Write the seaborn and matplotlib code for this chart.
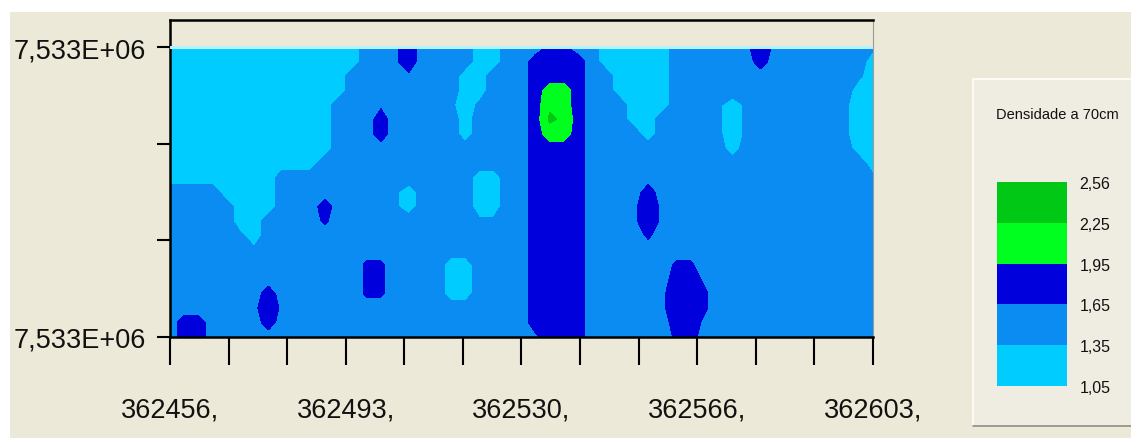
import numpy as np
import matplotlib
matplotlib.use("Agg")
import matplotlib.pyplot as plt
from matplotlib.patches import Rectangle
from matplotlib.lines import Line2D
import seaborn as sns

# map extent (UTM metres)
x_min, x_max = 362456, 362603
y_min, y_max = 7532960, 7533020

# density at 70 cm on a 51 x 21 grid, top row first.
# one hex char per node = tenths above 1.0  ('2' -> 1.2, '5' -> 1.5, 'B' -> 2.1)
density_rows = [
    "222222222222225568555522555775522222555556865555554",
    "222222222222225568555522558888522222555555855555552",
    "222222222222255556555225558888552222555555555555542",
    "222222222222255555555225558BB8552222555555555555522",
    "222222222222555655554245558CB8555222555424555555422",
    "222222222222555855555255558DC8555225555424555555422",
    "222222222222555855555255558BB8555525555424555555422",
    "222222222222555555555555558888555555555525555555522",
    "222222222225555555555555558888555555555555555555552",
    "222222225555555555555522558888555555555555555555554",
    "555522225555555542555522558888555585555555555555555",
    "555552225558555542555522558888555686555555555555555",
    "555552255557555555555544558888555686555555555555555",
    "555554255555555555555555558888555575555555555555555",
    "555555455555555555555555558888555555555555555555555",
    "555555555555557755552255558888555555775555555555555",
    "555555555555557755552255558888555555886555555555555",
    "555555585555557755552255558888555556887555555555555",
    "555555686555555555555555558888555556887555555555555",
    "588555585555555555555555558888555555886555555555555",
    "588555555555555555555555556888555555785555555555555",
]

levels = [1.05, 1.35, 1.65, 1.95, 2.25, 2.56]
level_labels = ["1,05", "1,35", "1,65", "1,95", "2,25", "2,56"]
level_colors = ["#00ccff", "#0a8cf3", "#0000dc", "#00ff1e", "#00c814"]

x_tick_labels = ["362456,", "", "", "362493,", "", "", "362530,", "", "",
                 "362566,", "", "", "362603,"]
y_tick_labels = ["7,533E+06", "", "", "7,533E+06"]

legend_title = "Densidade a 70cm"

for r in density_rows:
    assert len(r) == 51, r

z = np.array([[1.0 + 0.1 * int(c, 16) for c in r] for r in density_rows])
z = np.flipud(z)
xs = np.linspace(x_min, x_max, z.shape[1])
ys = np.linspace(y_min, y_max, z.shape[0])

sns.set_theme(style="ticks")
plt.rcParams['font.family'] = ['Liberation Sans', 'DejaVu Sans']

W, H = 1131, 439
bg = "#ece9d8"
fig = plt.figure(figsize=(W / 100, H / 100), dpi=100, facecolor="white")
fig.add_artist(Rectangle((10 / W, 0), 1, 1 - 13 / H, transform=fig.transFigure,
                         facecolor=bg, edgecolor="none", zorder=-10))

ax = fig.add_axes([170 / W, 1 - 338 / H, 703 / W, (338 - 21) / H])
ax.set_facecolor(bg)
pal = sns.color_palette(level_colors)
cf = ax.contourf(xs, ys, z, levels=levels, colors=pal)
ax.axhline(y_max, color="#b8f1fb", lw=2.2, zorder=3)

ax.set_xlim(x_min, x_max)
ax.set_ylim(y_min, y_max + 5.6)
ax.set_xticks(np.linspace(x_min, x_max, len(x_tick_labels)))
ax.set_xticklabels(x_tick_labels)
ax.set_yticks(np.linspace(y_min, y_max, len(y_tick_labels)))
ax.set_yticklabels(y_tick_labels)
ax.tick_params(axis="x", length=20, width=1.5, pad=23, labelsize=19.5, color="black",
               labelcolor="#111111")
ax.tick_params(axis="y", length=9.5, width=1.5, pad=8, labelsize=19.5, color="black",
               labelcolor="#111111")
ax.grid(False)
for s in ["top", "left", "bottom"]:
    ax.spines[s].set_color("black")
    ax.spines[s].set_linewidth(1.8)
ax.spines["right"].set_color("#9a9a9a")
ax.spines["right"].set_linewidth(0.8)

# legend panel
fig.add_artist(Rectangle((973 / W, 1 - 427 / H), 0.2, (427 - 80) / H, transform=fig.transFigure,
                         facecolor="#efede2", edgecolor="#fbfaf4", lw=1.5, zorder=-5))
fig.add_artist(Line2D([973 / W, 1], [1 - 427 / H] * 2, transform=fig.transFigure,
                      color="#8c8a80", lw=1.2))
fig.text(1057 / W, 1 - 115 / H, legend_title, ha="center", va="center", fontsize=10.5,
         color="#111111")

cax = fig.add_axes([997 / W, 1 - 387 / H, 70 / W, 204 / H])
cb = fig.colorbar(cf, cax=cax, ticks=levels)
cb.outline.set_visible(False)
cb.set_ticklabels(level_labels)
cax.tick_params(length=0, pad=9, labelsize=11.5, labelcolor="#111111")

fig.savefig("out.png", dpi=100, facecolor=fig.get_facecolor())
